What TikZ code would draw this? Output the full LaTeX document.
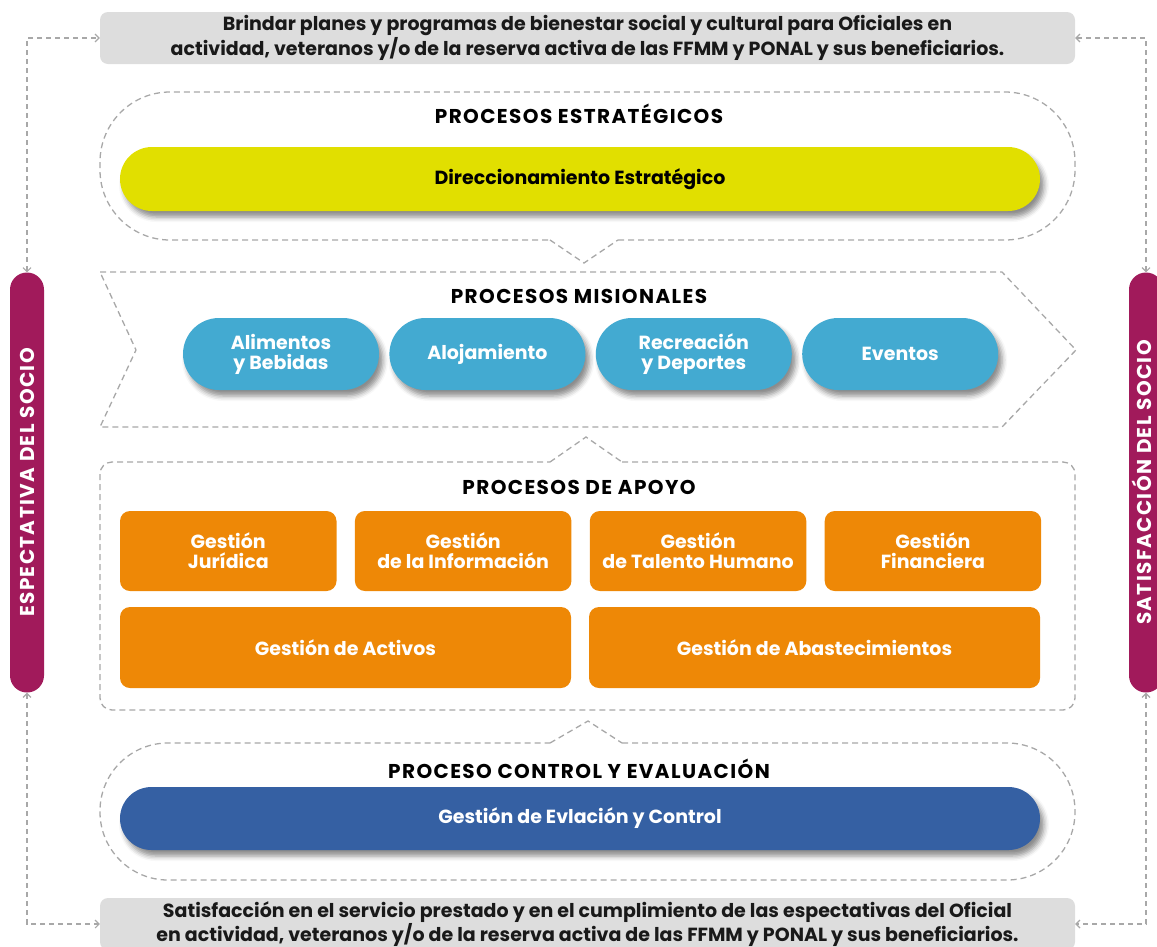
\documentclass[tikz,border=0pt]{standalone}
\usepackage{fontspec}
\setmainfont{Poppins}
\newfontfamily\capsfont{Poppins}[LetterSpace=7]
\usetikzlibrary{positioning,shapes.misc,shadows.blur,arrows.meta}
\definecolor{socio}{HTML}{A11A5B}
\definecolor{amarillo}{HTML}{E1DF00}
\definecolor{celeste}{HTML}{43AAD1}
\definecolor{naranja}{HTML}{EE8806}
\definecolor{azul}{HTML}{3560A3}
\definecolor{grisbox}{HTML}{DDDDDD}
\definecolor{dashgris}{HTML}{A8A8A8}
\tikzset{
  dashline/.style={draw=dashgris, line width=1.3pt, dash pattern=on 6pt off 4pt},
  conn/.style={draw=dashgris, line width=1.1pt, dash pattern=on 5pt off 4pt,
    {Straight Barb[length=4pt,width=8pt]}-{Straight Barb[length=4pt,width=8pt]}},
  greybox/.style={rectangle, fill=grisbox, rounded corners=8pt, minimum width=975pt,
    minimum height=52pt, inner sep=0pt, align=center, text=black!90},
  barra/.style={rectangle, fill=socio, rounded corners=17pt, minimum width=34pt,
    minimum height=420pt, inner sep=0pt, text=white},
  barratexto/.style={text=white, inner sep=0pt, font=\fontsize{20}{20}\capsfont\bfseries},
  titulo/.style={text=black, inner sep=0pt, font=\fontsize{20}{20}\capsfont\bfseries},
  sombra/.style={blur shadow={shadow xshift=4pt, shadow yshift=-6pt, shadow blur radius=5pt, shadow opacity=45}},
  pill/.style={rounded rectangle, inner sep=0pt, align=center, sombra},
  mision/.style={pill, fill=celeste, text=white, minimum width=196pt, minimum height=72pt},
  apoyo/.style={rectangle, rounded corners=10pt, fill=naranja, text=white, align=center, inner sep=0pt},
}
\begin{document}
\begin{tikzpicture}[x=1pt,y=-1pt,every node/.style={font=\fontsize{19}{20}\selectfont\bfseries}]
\useasboundingbox (0,0) rectangle (1157,946);

\node[greybox] (brindar) at (587.5,38) {Brindar planes y programas de bienestar social y cultural para Oficiales en\\actividad, veteranos y/o de la reserva activa de las FFMM y PONAL y sus beneficiarios.};
\node[greybox] (satisf) at (587.5,924) {Satisfacción en el servicio prestado y en el cumplimiento de las espectativas del Oficial\\en actividad, veteranos y/o de la reserva activa de las FFMM y PONAL y sus beneficiarios.};

\node[barra] (espect) at (27,482.5) {};
\node[barratexto, rotate=90] (espectxt) at (espect.center) {ESPECTATIVA DEL SOCIO};
\node[barra] (satsocio) at (1146,482.5) {};
\node[barratexto, rotate=90] (satsociotxt) at (1142,482.5) {SATISFACCIÓN DEL SOCIO};

\draw[conn] (espect.north) |- (brindar.west);
\draw[conn] (espect.south) |- (satisf.west);
\draw[conn] (satsocio.north) |- (brindar.east);
\draw[conn] (satsocio.south) |- (satisf.east);

\draw[dashline, rounded corners=70pt] (618,240) -- (1075,240) -- (1075,92) -- (100,92) -- (100,240) -- (550,240);
\draw[dashline] (550,240) -- (584,263) -- (618,240);
\node[titulo] (estr) at (579,114) {PROCESOS ESTRATÉGICOS};
\node[pill, fill=amarillo, text=black, minimum width=920pt, minimum height=64pt] (direc) at (580,179) {Direccionamiento Estratégico};

\draw[dashline] (100,272) -- (1002,272) -- (1076,350) -- (1002,427) -- (100,427) -- (136,350) -- cycle;
\node[titulo] (misi) at (579,296) {PROCESOS MISIONALES};
\node[mision] (alim) at (281,354) {Alimentos\\y Bebidas};
\node[mision, right=10pt of alim] (aloj) {Alojamiento};
\node[mision, right=10pt of aloj] (recre) {Recreación\\y Deportes};
\node[mision, right=10pt of recre] (event) {Eventos};

\draw[dashline, rounded corners=12pt] (622,462) -- (1075,462) -- (1075,710) -- (100,710) -- (100,462) -- (550,462);
\draw[dashline] (550,462) -- (586,437) -- (622,462);
\node[titulo] (apoy) at (579,487) {PROCESOS DE APOYO};
\node[apoyo, minimum width=216.5pt, minimum height=80pt] (jur) at (228.25,551) {Gestión\\Jurídica};
\node[apoyo, minimum width=216.5pt, minimum height=80pt, right=18pt of jur] (info) {Gestión\\de la Información};
\node[apoyo, minimum width=216.5pt, minimum height=80pt, right=18pt of info] (talen) {Gestión\\de Talento Humano};
\node[apoyo, minimum width=216.5pt, minimum height=80pt, right=18pt of talen] (finan) {Gestión\\Financiera};
\node[apoyo, minimum width=451pt, minimum height=81pt] (activ) at (345.5,647.5) {Gestión de Activos};
\node[apoyo, minimum width=451pt, minimum height=81pt] (abast) at (814.5,647.5) {Gestión de Abastecimientos};

\draw[dashline, rounded corners=68pt] (622,743) -- (1075,743) -- (1075,880) -- (100,880) -- (100,743) -- (550,743);
\draw[dashline] (550,743) -- (588,721) -- (622,743);
\node[titulo] (contr) at (579,769) {PROCESO CONTROL Y EVALUACIÓN};
\node[pill, fill=azul, text=white, minimum width=920pt, minimum height=63pt] (evlac) at (580,818.5) {Gestión de Evlación y Control};
\end{tikzpicture}
\end{document}
